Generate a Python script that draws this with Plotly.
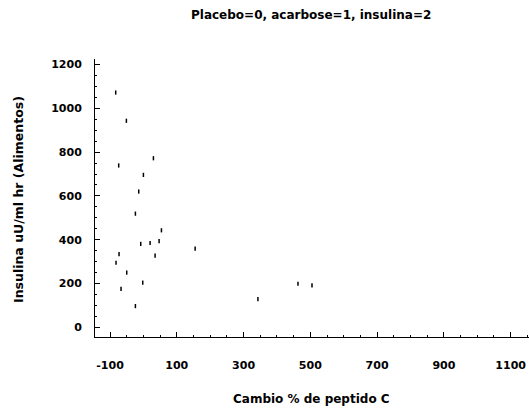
import plotly.graph_objects as go

# Cambio % de peptido C (x) vs Insulina uU/ml hr (Alimentos) (y)
cambio_peptido = [-83, -51, 30, -74, 0, -14, -24, 54, -8, 20, 47, 155, -73, 35, -82,
                  -50, -2, -67, -24, 343, 463, 505]
insulina = [1072, 943, 772, 739, 696, 620, 519, 443, 381, 385, 394, 359, 334, 327, 295,
            250, 204, 176, 97, 129, 199, 192]

x_ticks = [-100, 100, 300, 500, 700, 900, 1100]
y_ticks = [0, 200, 400, 600, 800, 1000, 1200]

FONT = "DejaVu Sans"
W, H = 529, 408
L, R, T = 95, 0, 59
B = H - 337

fig = go.Figure()
fig.add_trace(go.Scatter(
    x=cambio_peptido, y=insulina, mode="markers",
    marker=dict(symbol="line-ns", size=3, color="black",
                line=dict(color="black", width=1.5)),
    hoverinfo="x+y", showlegend=False,
))

fig.update_layout(
    width=W, height=H,
    margin=dict(l=L, r=R, t=T, b=B, autoexpand=False),
    paper_bgcolor="white", plot_bgcolor="white",
    font=dict(family=FONT, color="black", size=11),
    xaxis=dict(
        range=[-145, 1155], tickvals=x_ticks, ticktext=[str(v) for v in x_ticks],
        showgrid=False, zeroline=False, showline=True, linecolor="black", linewidth=1,
        ticks="inside", ticklen=5, tickcolor="black", tickwidth=1,
        minor=dict(dtick=50, tick0=0, ticks="inside", ticklen=2, tickcolor="black"),
        tickfont=dict(family=FONT, size=11, color="black", weight="bold"),
        ticklabelstandoff=18, automargin=False,
    ),
    yaxis=dict(
        range=[-44, 1225], tickvals=y_ticks, ticktext=[str(v) for v in y_ticks],
        showgrid=False, zeroline=False, showline=True, linecolor="black", linewidth=1,
        ticks="inside", ticklen=5, tickcolor="black", tickwidth=1,
        minor=dict(dtick=50, tick0=0, ticks="inside", ticklen=2, tickcolor="black"),
        tickfont=dict(family=FONT, size=11, color="black", weight="bold"),
        ticklabelstandoff=10, automargin=False,
    ),
)

pw = W - L - R
ph = H - T - B


def px_ann(text, x, y, size, angle=0):
    fig.add_annotation(
        text="<b>" + text + "</b>", x=(x - L) / pw, y=((H - y) - B) / ph,
        xref="paper", yref="paper", showarrow=False, textangle=angle,
        xanchor="center", yanchor="middle",
        font=dict(family=FONT, size=size, color="black"),
    )


px_ann("Placebo=0, acarbose=1, insulina=2", 311, 15, 12)
px_ann("Cambio % de peptido C", 311, 399, 12)
px_ann("Insulina uU/ml hr (Alimentos)", 18, 200, 12.5, angle=-90)

fig.write_html(
    "out.html",
    config={"displayModeBar": False},
    post_script="document.body.style.margin='0';document.body.style.overflow='hidden';",
)
